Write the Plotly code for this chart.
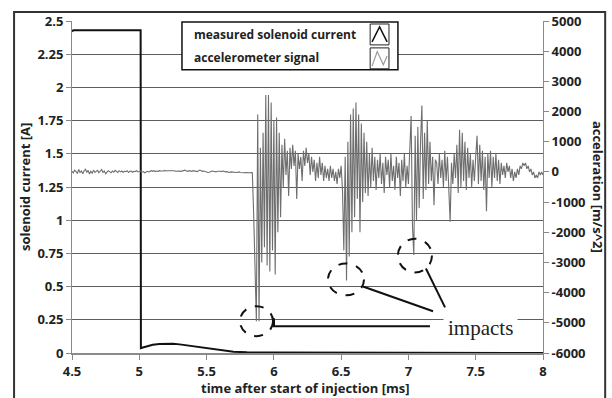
import numpy as np
import plotly.graph_objects as go

# ---------------- data ----------------
cur_t = [4.5, 4.51, 5.01, 5.012, 5.02, 5.05, 5.1, 5.15, 5.2, 5.25, 5.3, 5.4, 5.5, 5.6, 5.7, 5.8, 6.0, 7.0, 8.0]
cur_A = [2.42, 2.43, 2.43, 0.037, 0.04, 0.05, 0.062, 0.068, 0.07, 0.069, 0.065, 0.052, 0.037, 0.022, 0.01, 0.005, 0.003, 0.002, 0.0]

acc_t0 = 4.5
acc_dt = 0.01
acc_val = [
    # 4.50 - 5.84 quiet
    20, -30, 60, 10, -40, 80, -20, 30, -60, 40,
    90, -10, 50, -70, 20, -40, 60, -20, 10, 50,
    -30, 40, 80, -20, 30, -60, -20, 40, 10, -30,
    30, -10, 50, 20, -20, 40, 0, 30, -10, 20,
    10, 40, -20, 20, 30, -10, 20, 10, 40, 0,
    20, 30, -10, 10, -30, -10, 20, 0, 30, 40,
    20, 40, 10, 30, 20, 40, 30, 20, 30, 50,
    30, 40, 40, 30, 50, 30, 40, 20, 30, 40,
    30, 20, 30, 40, 60, 30, 20, 40, 30, 20,
    40, 30, 20, 10, 40, 60, 40, 20, 30, 10,
    0, -20, -10, 10, 30, 20, 10, 0, 20, 30,
    20, 10, 30, 20, 0, 10, -10, -20, 0, -10,
    0, -10, -20, -10, 0, -20, -30, -20, -30, -20,
    -30, -20, -30, -20, -30,
    # 5.85 - 6.14 first impact
    -1400, -3300, -4950, 1900, -4950, 800, -3000, 1300, -2500, 2550,
    -3100, 2550, -3300, 2300, -2600, 1700, -3400, 1800, -2000, 1300,
    -1500, 900, -500, 1100, -100, 700, -800, 800, 100, 900,
    # 6.15 - 6.50
    200, 700, -900, 600, 100, 500, -300, 700, 200, 800,
    300, 600, -100, 500, 0, 400, -300, 300, -200, 500,
    -100, 300, -300, 200, -200, 100, -300, 200, -200, 100,
    -300, 0, -400, 100, -200, 200,
    # 6.51 - 6.70 second impact
    -600, -2600, 500, -3600, 1000, -2800, 1900, -2000, 2100, -1500,
    2300, -900, 1900, -2000, 1600, -1000, 1300, -700, 1000, -800,
    # 6.71 - 7.00
    600, -500, 800, -300, 500, -600, 400, -200, 600, -400,
    300, -700, 500, -100, 400, -500, 600, -300, 200, -600,
    500, -200, 300, -800, 400, -300, 600, -500, 200, -400,
    # 7.01 - 7.20 third impact
    500, 1850, -1800, -2750, 1200, -1600, 1500, -1200, 1000, 2200,
    -900, 1300, -600, 1700, -400, 1000, -300, 500, -1100, 400,
    # 7.21 - 7.50
    300, -400, 600, -200, 400, -500, 700, -300, 500, -600,
    -1650, 300, -400, 600, -200, 900, -700, 1400, -500, 1300,
    -300, 1000, -600, 800, -200, 600, -500, 400, -300, 500,
    # 7.51 - 7.70
    1200, -400, 900, -300, 700, -600, 500, -1300, 600, -200,
    700, -500, 500, -200, 600, -300, 400, -400, 300, -100,
    # 7.71 - 8.00
    200, -200, 300, 0, 200, -200, 100, -300, 0, -200,
    100, -100, 200, 100, 300, 200, 300, 100, 200, 0,
    100, -100, 0, -200, -100, -200, 0, -100, 0, -100,
]
acc_t = np.round(acc_t0 + acc_dt * np.arange(len(acc_val)), 3)

x_ticks = [4.5, 5, 5.5, 6, 6.5, 7, 7.5, 8]
y_ticks = [0, 0.25, 0.5, 0.75, 1, 1.25, 1.5, 1.75, 2, 2.25, 2.5]
y2_ticks = [-6000, -5000, -4000, -3000, -2000, -1000, 0, 1000, 2000, 3000, 4000, 5000]
y2_text = [str(v) for v in y2_ticks]

legend_labels = ["measured solenoid current", "accelerometer signal"]

# ---------------- figure ----------------
FONT = "Open Sans"
fig = go.Figure()
fig.add_trace(go.Scatter(x=acc_t, y=acc_val, yaxis="y2", mode="lines",
                         line=dict(color="#6e6e6e", width=1.1), name=legend_labels[1],
                         showlegend=False))
fig.add_trace(go.Scatter(x=cur_t, y=cur_A, mode="lines",
                         line=dict(color="#111111", width=2), name=legend_labels[0],
                         showlegend=False))

tickfont = dict(family=FONT, size=13, color="#222", weight="bold")
fig.update_layout(
    width=612, height=398,
    margin=dict(l=72, r=69, t=19, b=45),
    paper_bgcolor="white", plot_bgcolor="white",
    xaxis=dict(range=[4.5, 8], tickvals=x_ticks, ticks="outside", ticklen=5,
               tickcolor="#888", showgrid=False, zeroline=False,
               showline=True, linecolor="#8a8a8a", linewidth=2,
               tickfont=tickfont),
    yaxis=dict(range=[0, 2.5], tickvals=y_ticks, ticks="outside", ticklen=5,
               tickcolor="#888", showgrid=True, gridcolor="#5e5e5e", gridwidth=1,
               zeroline=False, showline=True, linecolor="#8a8a8a", linewidth=1,
               tickfont=tickfont),
    yaxis2=dict(range=[-6000, 5000], tickvals=y2_ticks, ticktext=y2_text,
                overlaying="y", side="right", anchor="x", ticks="outside", ticklen=5,
                tickcolor="#888", showgrid=False, zeroline=False,
                showline=True, linecolor="#8a8a8a", linewidth=1,
                tickfont=tickfont),
)

# axis titles
tfont = dict(family=FONT, size=13, color="#222", weight="bold")
fig.add_annotation(text="time after start of injection [ms]", xref="paper", yref="paper",
                   x=0.495, y=-0.105, showarrow=False, font=tfont,
                   xanchor="center", yanchor="middle")
fig.add_annotation(text="solenoid current [A]", xref="paper", yref="paper",
                   x=-0.1, y=0.5, textangle=-90, showarrow=False, font=tfont,
                   xanchor="center", yanchor="middle")
fig.add_annotation(text="acceleration [m/s^2]", xref="paper", yref="paper",
                   x=1.117, y=0.5, textangle=90, showarrow=False, font=tfont,
                   xanchor="center", yanchor="middle")

shapes = []
# outer frame
shapes.append(dict(type="rect", xref="paper", yref="paper", x0=-0.123, x1=1.132,
                   y0=-0.16, y1=1.027, line=dict(color="#333", width=2)))
# legend box
shapes.append(dict(type="rect", xref="paper", yref="paper", x0=0.2335, x1=0.692,
                   y0=0.853, y1=0.997, line=dict(color="#111", width=1.5),
                   fillcolor="white", layer="above"))
# legend icon boxes
shapes.append(dict(type="rect", xref="paper", yref="paper", x0=0.633, x1=0.673,
                   y0=0.928, y1=0.991, line=dict(color="#222", width=1), layer="above"))
shapes.append(dict(type="rect", xref="paper", yref="paper", x0=0.633, x1=0.673,
                   y0=0.856, y1=0.919, line=dict(color="#222", width=1), layer="above"))
# icon glyphs
shapes.append(dict(type="path", xref="paper", yref="paper",
                   path="M 0.637 0.937 L 0.653 0.982 L 0.669 0.937",
                   line=dict(color="#111", width=1.5), layer="above"))
shapes.append(dict(type="path", xref="paper", yref="paper",
                   path="M 0.637 0.864 L 0.648 0.908 L 0.661 0.868 L 0.669 0.895",
                   line=dict(color="#999", width=1.2), layer="above"))

# dashed circles (in data units of time / current axis)
for (x0, x1, y0, y1) in [(5.748, 5.994, 0.127, 0.352),
                         (6.402, 6.670, 0.434, 0.674),
                         (6.922, 7.175, 0.606, 0.861)]:
    shapes.append(dict(type="circle", xref="x", yref="y", x0=x0, x1=x1, y0=y0, y1=y1,
                       line=dict(color="#111", width=2, dash="dash"), layer="above"))
# pointer lines
shapes.append(dict(type="path", xref="x", yref="y",
                   path="M 6.001 0.262 L 6.001 0.202 L 7.16 0.202",
                   line=dict(color="#111", width=2), layer="above"))
shapes.append(dict(type="line", xref="x", yref="y", x0=6.662, y0=0.501, x1=7.183, y1=0.314,
                   line=dict(color="#111", width=2), layer="above"))
shapes.append(dict(type="line", xref="x", yref="y", x0=7.13, y0=0.636, x1=7.272, y1=0.344,
                   line=dict(color="#111", width=2), layer="above"))
fig.update_layout(shapes=shapes)

lfont = dict(family=FONT, size=12, color="#222", weight="bold")
fig.add_annotation(text=legend_labels[0], xref="paper", yref="paper", x=0.255, y=0.958,
                   xanchor="left", yanchor="middle", showarrow=False, font=lfont)
fig.add_annotation(text=legend_labels[1], xref="paper", yref="paper", x=0.255, y=0.889,
                   xanchor="left", yanchor="middle", showarrow=False, font=lfont)

fig.add_annotation(text="impacts", xref="x", yref="y", x=7.532, y=0.185, showarrow=False,
                   font=dict(family="Liberation Serif", size=21, color="#222"),
                   bgcolor="white", borderpad=4, xanchor="center", yanchor="middle")

fig.write_html("out.html")
